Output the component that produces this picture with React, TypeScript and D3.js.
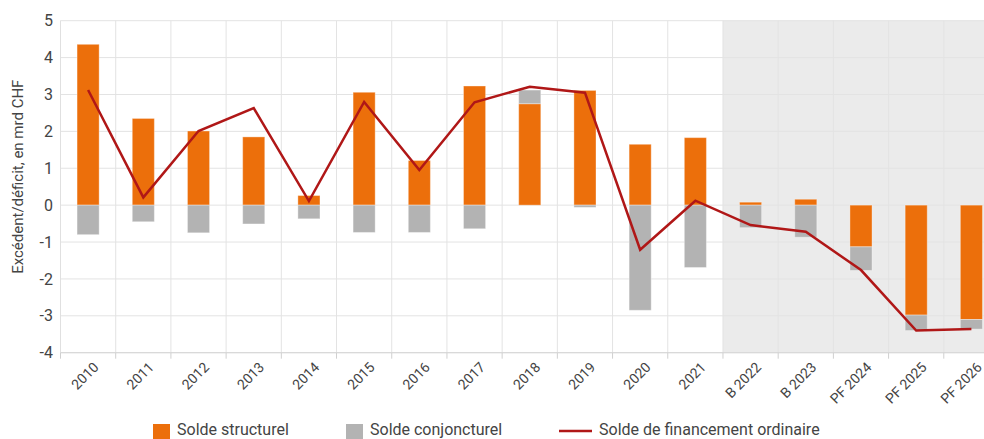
import React from "react";
import * as d3 from "d3";

const categories = ["2010","2011","2012","2013","2014","2015","2016","2017","2018","2019","2020","2021","B 2022","B 2023","PF 2024","PF 2025","PF 2026"];
const structural = [4.36, 2.35, 2.01, 1.85, 0.26, 3.06, 1.21, 3.23, 2.75, 3.11, 1.65, 1.83, 0.08, 0.16, -1.13, -2.98, -3.10];
const cyclical = [-0.80, -0.45, -0.75, -0.51, -0.37, -0.74, -0.74, -0.64, 0.37, -0.06, -2.85, -1.69, -0.61, -0.87, -0.64, -0.42, -0.26];
const financing = [3.12, 0.21, 2.01, 2.63, 0.11, 2.80, 0.95, 2.79, 3.21, 3.05, -1.21, 0.12, -0.54, -0.72, -1.76, -3.40, -3.36];
const yTicks = [-4, -3, -2, -1, 0, 1, 2, 3, 4, 5];
const shadedFrom = "B 2022";

const W = 984, H = 439;
const M = { left: 60.5, right: 999, top: 20.7, bottom: 352.7 };
const FONT = "Roboto, 'DejaVu Sans', sans-serif";
const ORANGE = "#ec6f0b";
const GREY = "#b3b3b3";
const RED = "#b01717";

export default function App() {
  const x = d3.scaleBand().domain(categories).range([M.left, M.right]).paddingInner(0).paddingOuter(0);
  const y = d3.scaleLinear().domain([-4, 5]).range([M.bottom, M.top]);
  const bw = x.bandwidth() * 0.4;

  const rows = categories.map((c, i) => ({ cat: c, s: structural[i], c2: cyclical[i] }));
  const stack = d3.stack<any>().keys(["s", "c2"]).offset(d3.stackOffsetDiverging);
  const series = stack(rows);
  const colors = [ORANGE, GREY];

  const line = d3.line<number>()
    .x((_, i) => (x(categories[i]) as number) + x.bandwidth() / 2)
    .y((d) => y(d));

  const shadeX = x(shadedFrom) as number;

  return (
    <svg width={W} height={H} style={{ position: "absolute", left: 0, top: 0, fontFamily: FONT }}>
      <rect x={shadeX} y={M.top} width={M.right - shadeX} height={M.bottom - M.top} fill="#ebebeb" />
      {yTicks.map((t) => (
        <line key={"h" + t} x1={M.left} x2={M.right} y1={y(t)} y2={y(t)} stroke="#e3e3e3" strokeWidth={1} />
      ))}
      {categories.map((c) => (
        <line key={"v" + c} x1={x(c) as number} x2={x(c) as number} y1={M.top} y2={M.bottom} stroke="#e3e3e3" strokeWidth={1} />
      ))}
      <line x1={M.left} x2={M.left} y1={M.top} y2={M.bottom} stroke="#e0e0e0" />
      <line x1={M.left} x2={M.right} y1={M.bottom} y2={M.bottom} stroke="#d9d9d9" strokeWidth={1.2} />
      {categories.map((c) => (
        <line key={"t" + c} x1={x(c) as number} x2={x(c) as number} y1={M.bottom} y2={M.bottom + 6} stroke="#d0d0d0" />
      ))}
      {series.map((s, si) => (
        <g key={si}>
          {s.map((d, i) => {
            const y0 = y(d[0]), y1 = y(d[1]);
            const h = Math.abs(y0 - y1);
            if (h < 0.01) return null;
            return (
              <rect key={i}
                x={(x(categories[i]) as number) + (x.bandwidth() - bw) / 2}
                y={Math.min(y0, y1)} width={bw} height={h}
                fill={colors[si]} stroke="#ffffff" strokeOpacity={0.35} strokeWidth={1} />
            );
          })}
        </g>
      ))}
      <path d={line(financing) || ""} fill="none" stroke={RED} strokeWidth={2.5} strokeLinejoin="miter" />
      {yTicks.map((t) => (
        <text key={"yl" + t} x={53} y={y(t)} dy="0.35em" textAnchor="end" fontSize={16} fill="#444">{t}</text>
      ))}
      {categories.map((c) => {
        const cx = (x(c) as number) + x.bandwidth() / 2 + 8;
        const cy = M.bottom + 12;
        return (
          <text key={"xl" + c} transform={`translate(${cx},${cy}) rotate(-45)`} textAnchor="end" dy="0.35em" fontSize={14} fill="#444">{c}</text>
        );
      })}
      <text transform={`translate(23,${(M.top + M.bottom) / 2 - 10}) rotate(-90)`} textAnchor="middle" fontSize={15} fill="#444">Excédent/déficit, en mrd CHF</text>
      <g fontSize={16} fill="#444">
        <rect x={153} y={424} width={17} height={15} fill={ORANGE} />
        <text x={177} y={435}>Solde structurel</text>
        <rect x={346} y={424} width={17} height={15} fill={GREY} />
        <text x={370} y={435}>Solde conjoncturel</text>
        <line x1={559} x2={592} y1={431} y2={431} stroke={RED} strokeWidth={2.5} />
        <text x={599} y={435}>Solde de financement ordinaire</text>
      </g>
    </svg>
  );
}
